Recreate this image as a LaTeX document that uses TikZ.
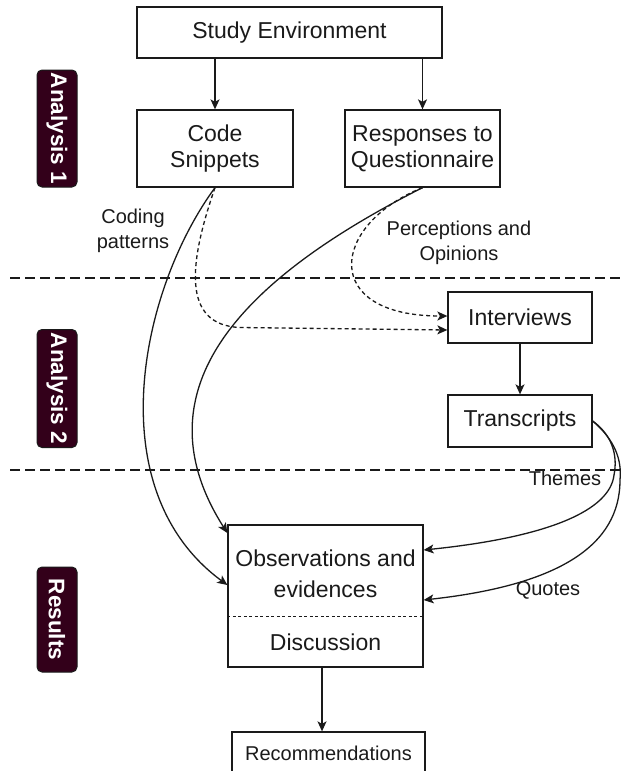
\documentclass[tikz,border=0pt]{standalone}
\usepackage{fontspec}
\setmainfont{Liberation Sans}
\usetikzlibrary{arrows.meta,calc}
\definecolor{maroon}{HTML}{33001A}
\definecolor{ink}{HTML}{1A1A1A}
\begin{document}
\begin{tikzpicture}[x=1pt,y=-1pt,
  box/.style={draw=ink,line width=1.3pt,inner sep=0pt,align=center,text=ink,
    font=\fontsize{23}{26}\selectfont},
  lbl/.style={inner sep=0pt,align=center,text=ink,font=\fontsize{20}{25}\selectfont},
  side/.style={draw=ink,fill=maroon,rounded corners=5pt,line width=1pt,rotate=-90,
    minimum height=40pt,inner sep=0pt,text=white,font=\fontsize{22.5}{26}\selectfont\bfseries},
  arr/.style={draw=ink,line width=1.3pt,-{Stealth[length=10pt,width=9pt,inset=2.5pt]}},
  darr/.style={arr,dash pattern=on 4pt off 3pt},
  sep/.style={draw=ink,line width=2.2pt,dash pattern=on 10pt off 5pt}]
\useasboundingbox (0,0) rectangle (623,771);

% separators
\coordinate (s1l) at (10,278); \coordinate (s1r) at (623,278);
\coordinate (s2l) at (10,470); \coordinate (s2r) at (623,470);
\draw[sep] (s1l) -- (s1r);
\draw[sep] (s2l) -- (s2r);

% side labels
\node[side,minimum width=117pt] (a1) at (57,128.5) {Analysis 1};
\node[side,minimum width=118pt] (a2) at (57,388.5) {Analysis 2};
\node[side,minimum width=105pt] (res) at (57,619.5) {Results};

% boxes
\node[box,minimum width=305pt,minimum height=51pt] (study) at (289.5,32.5) {Study Environment};
\node[box,minimum width=156pt,minimum height=77pt] (code) at (215,148.5) {Code\\Snippets};
\node[box,minimum width=155pt,minimum height=77pt] (resp) at (422.5,148.5) {Responses to\\Questionnaire};
\node[box,minimum width=144pt,minimum height=51pt] (int) at (520,317.5) {Interviews};
\node[box,minimum width=144pt,minimum height=52pt] (tr) at (520,421) {Transcripts};
\node[box,minimum width=195pt,minimum height=142pt] (obs) at (325.5,596) {};
\node[lbl,font=\fontsize{23}{31}\selectfont] (obst) at (325.5,574) {Observations and\\evidences};
\node[lbl,font=\fontsize{23}{26}\selectfont] (disc) at (325.5,642) {Discussion};
\coordinate (divy) at (0,616);
\draw[draw=ink,line width=1pt,dash pattern=on 3pt off 2.5pt] (obs.west |- divy) -- (obs.east |- divy);
\node[box,font=\fontsize{20}{24}\selectfont,minimum width=193pt,minimum height=42pt] (rec) at (328.5,753) {Recommendations};

% straight arrows
\draw[arr] (study.south -| code.north) -- (code.north);
\draw[arr] (study.south -| resp.north) -- (resp.north);
\draw[arr] (int.south) -- (int.south |- tr.north);
\draw[arr] (obs.south -| 322,0) -- (rec.north -| 322,0);

% curved connectors
\draw[arr] (code.south) .. controls (140,290) and (98,490) .. ([yshift=11pt]obs.west);
\draw[arr] (resp.south) .. controls (260,270) and (130,380) .. ([yshift=63pt]obs.west);
\draw[darr] (code.south) .. controls (190,260) and (180,325) .. (240,327.5) -- ([yshift=-12.5pt]int.west);
\draw[darr] (resp.south) .. controls (330,225) and (320,316) .. ([yshift=1.5pt]int.west);
\draw[arr] (tr.east) .. controls (612,435) and (618,455) .. (614,475)
   .. controls (610,510) and (550,537) .. ([yshift=46pt]obs.east);
\draw[arr] (tr.east) .. controls (615,440) and (622,460) .. (620,480)
   .. controls (620,545) and (560,585) .. ([yshift=-4pt]obs.east);

% labels
\node[lbl] (lcp) at (133,231) {Coding\\patterns};
\node[lbl] (lpo) at (459,243) {Perceptions and\\Opinions};
\node[lbl] (lth) at (565,478) {Themes};
\node[lbl] (lqu) at (548,590) {Quotes};
\end{tikzpicture}
\end{document}
